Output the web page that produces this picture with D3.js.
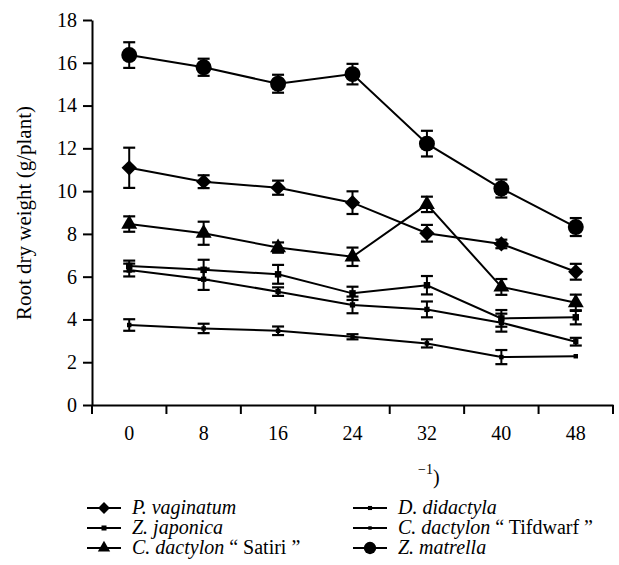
<!DOCTYPE html>
<html><head><meta charset="utf-8">
<script src="https://cdn.jsdelivr.net/npm/d3@7"></script>
</head><body style="margin:0;background:#fff"><svg id="c" width="619" height="565" font-family="Liberation Serif" style="display:block;font-family:'Liberation Serif'"></svg>
<script>
const categories = ["0","8","16","24","32","40","48"];
const yTicks = [0,2,4,6,8,10,12,14,16,18];
const seriesNames = ["P. vaginatum","Z. japonica","C. dactylon “ Satiri ”","D. didactyla","C. dactylon “ Tifdwarf ”","Z. matrella"];
const pVaginatum    = [11.09,10.44,10.16,9.46,8.03,7.53,6.23];
const pVaginatumErr = [0.94,0.30,0.33,0.53,0.39,0.20,0.37];
const zJaponica     = [6.50,6.32,6.11,5.22,5.60,4.05,4.10];
const zJaponicaErr  = [0.25,0.47,0.44,0.31,0.43,0.39,0.33];
const cdSatiri      = [8.46,8.03,7.36,6.93,9.38,5.52,4.78];
const cdSatiriErr   = [0.36,0.54,0.24,0.43,0.36,0.37,0.38];
const dDidactyla    = [6.31,5.88,5.30,4.68,4.47,3.85,2.96];
const dDidactylaErr = [0.30,0.50,0.20,0.39,0.37,0.42,0.18];
const cdTifdwarf    = [3.74,3.58,3.47,3.19,2.88,2.24,2.28];
const cdTifdwarfErr = [0.27,0.22,0.20,0.12,0.19,0.33,0.00];
const zMatrella     = [16.36,15.79,15.02,15.47,12.22,10.12,8.32];
const zMatrellaErr  = [0.60,0.40,0.42,0.48,0.60,0.42,0.42];

const series = [
  {name:seriesNames[0], v:pVaginatum, e:pVaginatumErr, sym:d3.symbolDiamond2, size:150},
  {name:seriesNames[1], v:zJaponica, e:zJaponicaErr, sym:d3.symbolSquare, size:42},
  {name:seriesNames[2], v:cdSatiri, e:cdSatiriErr, sym:d3.symbolTriangle, size:110},
  {name:seriesNames[3], v:dDidactyla, e:dDidactylaErr, sym:d3.symbolSquare, size:28},
  {name:seriesNames[4], v:cdTifdwarf, e:cdTifdwarfErr, sym:d3.symbolSquare, size:20},
  {name:seriesNames[5], v:zMatrella, e:zMatrellaErr, sym:d3.symbolCircle, size:200}
];

const FONT = "Liberation Serif";
const svg = d3.select("#c");
const x = d3.scaleBand().domain(categories).range([92,613]);
const y = d3.scaleLinear().domain([0,18]).range([405,20]);

const gy = svg.append("g").attr("transform","translate(92,0)")
  .call(d3.axisLeft(y).tickValues(yTicks).tickSize(9).tickPadding(6).tickSizeOuter(0));
const gx = svg.append("g").attr("transform","translate(0,405)")
  .call(d3.axisBottom(x).tickSize(9).tickPadding(12).tickSizeOuter(0));
gx.selectAll(".tick line").remove();
const bounds = categories.map(c=>x(c)).concat([x.range()[1]]);
gx.selectAll("line.b").data(bounds).enter().append("line")
  .attr("x1",d=>d).attr("x2",d=>d).attr("y1",0).attr("y2",9).attr("stroke","#000").attr("stroke-width",2);
[gx,gy].forEach(g=>{
  g.attr("font-family",FONT).attr("font-size",20);
  g.select(".domain").attr("stroke","#000").attr("stroke-width",2);
  g.selectAll(".tick line").attr("stroke","#000").attr("stroke-width",2);
  g.selectAll("text").attr("font-family",FONT).attr("font-size",20).attr("fill","#000");
});

svg.append("text").attr("transform","translate(31,213) rotate(-90)")
  .attr("text-anchor","middle").attr("font-family",FONT).attr("font-size",21).text("Root dry weight (g/plant)");

const xl = svg.append("text").attr("x",418).attr("y",484).attr("font-family",FONT).attr("font-size",20);
xl.append("tspan").attr("dy",-10).attr("font-size",14).text("−1");
xl.append("tspan").attr("dy",10).text(")");

const cx = c => x(c) + x.bandwidth()/2;
const line = d3.line().x((d,i)=>cx(categories[i])).y(d=>y(d));

series.forEach(s=>{
  const g = svg.append("g");
  g.append("path").attr("d",line(s.v)).attr("fill","none").attr("stroke","#000").attr("stroke-width",2);
  s.v.forEach((v,i)=>{
    const e = s.e[i]; if(e<=0) return;
    const xc = cx(categories[i]);
    g.append("line").attr("x1",xc).attr("x2",xc).attr("y1",y(v+e)).attr("y2",y(v-e)).attr("stroke","#000").attr("stroke-width",2);
    [v+e,v-e].forEach(w=>g.append("line").attr("x1",xc-6).attr("x2",xc+6).attr("y1",y(w)).attr("y2",y(w)).attr("stroke","#000").attr("stroke-width",2.2));
  });
  s.v.forEach((v,i)=>{
    g.append("path").attr("d",d3.symbol().type(s.sym).size(s.size)())
      .attr("transform",`translate(${cx(categories[i])},${y(v)})`).attr("fill","#000");
  });
});

const legPos = [[87,508],[87,528],[87,548],[353,508],[353,528],[353,548]];
series.forEach((s,i)=>{
  const [lx,ly] = legPos[i];
  const g = svg.append("g");
  g.append("line").attr("x1",lx).attr("x2",lx+34).attr("y1",ly).attr("y2",ly).attr("stroke","#000").attr("stroke-width",2);
  g.append("path").attr("d",d3.symbol().type(s.sym).size(s.size*0.6)()).attr("transform",`translate(${lx+17},${ly})`).attr("fill","#000");
  const t = g.append("text").attr("x",lx+45).attr("y",ly+6).attr("font-family",FONT).attr("font-size",20);
  const m = s.name.match(/^(C\. dactylon)(.*)$/);
  if(m){
    t.append("tspan").attr("font-style","italic").text(m[1]);
    t.append("tspan").text(m[2]);
  } else {
    t.append("tspan").attr("font-style","italic").text(s.name);
  }
});
</script></body></html>
